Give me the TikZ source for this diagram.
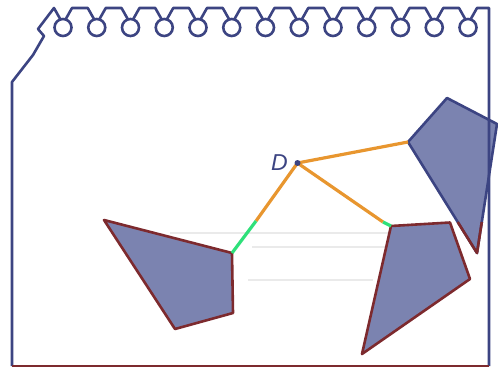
\documentclass[tikz,border=0pt]{standalone}
\usepackage{fontspec}
\setsansfont{Liberation Sans}
\definecolor{navy}{RGB}{60,68,130}
\definecolor{polyfill}{RGB}{123,131,176}
\definecolor{edgered}{RGB}{125,42,46}
\definecolor{segorange}{RGB}{232,150,47}
\definecolor{seggreen}{RGB}{46,224,122}
\definecolor{faint}{RGB}{234,234,234}
\begin{document}
\begin{tikzpicture}[x=1pt,y=-1pt,
  frameline/.style={draw=navy,line width=2.6pt,line join=round},
  poly/.style={fill=polyfill,draw=edgered,line width=2.6pt,line join=round},
  polyblue/.style={fill=polyfill,draw=navy,line width=2.6pt,line join=round},
  link/.style={draw=segorange,line width=3.2pt},
  glink/.style={draw=seggreen,line width=3.2pt},
  fline/.style={draw=faint,line width=1.2pt}]
\useasboundingbox (0,0) rectangle (498,369);
% faint horizontal lines
\draw[fline] (170,233) -- (420,233);
\draw[fline] (252,247) -- (420,247);
\draw[fline] (248,280) -- (373,280);
% vertices
\coordinate (L1) at (104,220);
\coordinate (L2) at (232,253);
\coordinate (L3) at (233,313);
\coordinate (L4) at (175,329);
\coordinate (M1) at (391,226);
\coordinate (M2) at (450,222.5);
\coordinate (M3) at (470,279);
\coordinate (M4) at (362,354);
\coordinate (R1) at (408,142);
\coordinate (R2) at (447,98);
\coordinate (R3) at (497,124);
\coordinate (R4) at (477,253);
\coordinate (Ra) at (457.7,222);
\coordinate (Rb) at (481.8,222);
\coordinate (D) at (297.5,163);
\coordinate (G1) at (256,221);
\coordinate (G2) at (383,222);
% polygons
\path[poly] (L1) -- (L2) -- (L3) -- (L4) -- cycle;
\path[poly] (M1) -- (M2) -- (M3) -- (M4) -- cycle;
\path[polyblue] (R1) -- (R2) -- (R3) -- (R4) -- cycle;
\draw[edgered,line width=2.6pt,line join=round] (Ra) -- (R4) -- (Rb);
% frame
\draw[frameline] (12,366) -- (12,82) -- (33,55) -- (44,36) -- (38,29) -- (54,8) -- (60.5,19.5);
\foreach \i in {0,...,12}{
  \pgfmathsetmacro{\cx}{63+33.75*\i}
  \draw[frameline] (\cx,27.5) circle[radius=8.5];
}
\foreach \i in {0,...,11}{
  \pgfmathsetmacro{\cx}{63+33.75*\i}
  \pgfmathsetmacro{\nx}{\cx+33.75}
  \draw[frameline] (\cx+2.5,19.5) -- (\cx+9,8) -- (\nx-9,8) -- (\nx-2.5,19.5);
}
\draw[frameline] (470.5,19.5) -- (477,8) -- (489,8) -- (489,366);
\draw[draw=edgered,line width=2.6pt] (12,366) -- (489,366);
% connectors
\draw[link] (D) -- (R1);
\draw[link] (D) -- (G2);
\draw[glink] (G2) -- (M1);
\draw[link] (D) -- (G1);
\draw[glink] (G1) -- (L2);
\fill[navy] (D) circle[radius=3];
\node[font=\sffamily\itshape\fontsize{23}{23}\selectfont,text=navy,anchor=east,inner sep=0pt] (Dl) at (288,163) {D};
\end{tikzpicture}
\end{document}
